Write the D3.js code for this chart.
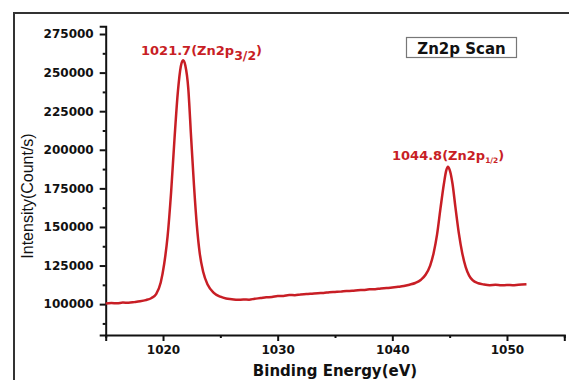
<!DOCTYPE html>
<html>
<head>
<meta charset="utf-8">
<script src="https://cdn.jsdelivr.net/npm/d3@7"></script>
<style>
  body { margin: 0; background: #fff; }
  svg { display: block; }
</style>
</head>
<body>
<div id="chart"></div>
<script>
// Zn2p XPS scan
const energy = [
  1015.0, 1015.5, 1016.0, 1016.5, 1017.0, 1017.5, 1018.0, 1018.5, 1019.0, 1019.4,
  1019.8, 1020.1, 1020.4, 1020.7, 1021.0, 1021.3, 1021.55, 1021.75, 1021.95, 1022.2,
  1022.45, 1022.7, 1022.95, 1023.2, 1023.5, 1023.9, 1024.4, 1025.0, 1025.5, 1026.0,
  1026.5, 1027.0, 1027.5, 1028.0, 1028.5, 1029.0, 1029.5, 1030.0, 1030.5, 1031.0,
  1031.5, 1032.0, 1032.5, 1033.0, 1033.5, 1034.0, 1034.5, 1035.0, 1035.5, 1036.0,
  1036.5, 1037.0, 1037.5, 1038.0, 1038.5, 1039.0, 1039.5, 1040.0, 1040.5, 1041.0,
  1041.5, 1042.0, 1042.5, 1042.9, 1043.3, 1043.6, 1043.9, 1044.2, 1044.5, 1044.7,
  1044.85, 1045.0, 1045.25, 1045.5, 1045.8, 1046.1, 1046.4, 1046.7, 1047.0, 1047.5,
  1048.0, 1048.5, 1049.0, 1049.5, 1050.0, 1050.5, 1051.0, 1051.7
];
const intensity = [
  100400, 100700, 100600, 101000, 100900, 101300, 101800, 102600, 104000, 106500,
  114000, 126000, 144000, 172000, 207000, 238000, 254000, 258000, 254500, 240000,
  208000, 177000, 151000, 133000, 121000, 112500, 107500, 104800, 103600, 103200,
  102800, 103000, 102900, 103500, 103900, 104400, 104600, 105200, 105300, 105900,
  105800, 106300, 106500, 106800, 107100, 107200, 107700, 107900, 108100, 108500,
  108600, 109000, 109200, 109600, 109700, 110200, 110400, 110800, 111200, 111700,
  112600, 113700, 115800, 119000, 125000, 133000, 145000, 162000, 178000, 186500,
  189000, 187000, 178000, 163000, 146000, 133000, 124000, 118500, 115500, 113500,
  112700, 112300, 112500, 112200, 112400, 112300, 112600, 112900
];
const xTicks = [1020, 1030, 1040, 1050];
const xMinor = [1015, 1025, 1035, 1045, 1055];
const yTicks = [100000, 125000, 150000, 175000, 200000, 225000, 250000, 275000];
const yMinor = [87500, 112500, 137500, 162500, 187500, 212500, 237500, 262500];
const peaks = [
  {main: "1021.7(Zn2p", sub: "3/2", e: 1021.7},
  {main: "1044.8(Zn2p", sub: "1/2", e: 1044.8}
];

const W = 569, H = 380;
const red = "#c81e25";

const svg = d3.select("#chart").append("svg")
  .attr("width", W)
  .attr("height", H);

// outer frame of the figure
svg.append("rect")
  .attr("x", 14).attr("y", 13)
  .attr("width", 600).attr("height", 400)
  .attr("fill", "none")
  .attr("stroke", "#333")
  .attr("stroke-width", 2);

const x = d3.scaleLinear().domain([1015, 1055]).range([105.7, 564.3]);
const y = d3.scaleLinear().domain([80000, 280000]).range([335, 26.3]);

const tickFont = "'DejaVu Sans', sans-serif";

// y axis
const gy = svg.append("g").attr("transform", "translate(105.7,0)");
gy.call(d3.axisLeft(y).tickValues(yTicks).tickSize(6).tickPadding(6).tickFormat(d3.format("d")));
gy.append("g").call(d3.axisLeft(y).tickValues(yMinor).tickSize(3).tickFormat(""))
  .select(".domain").remove();

// x axis
const gx = svg.append("g").attr("transform", "translate(0,335)");
gx.call(d3.axisBottom(x).tickValues(xTicks).tickSize(6).tickPadding(4).tickFormat(d3.format("d")));
gx.append("g").call(d3.axisBottom(x).tickValues(xMinor).tickSize(3).tickFormat(""))
  .select(".domain").remove();

svg.selectAll(".domain").attr("stroke", "#111").attr("stroke-width", 2);
svg.selectAll(".tick line").attr("stroke", "#111").attr("stroke-width", 2);
svg.selectAll(".tick text")
  .attr("fill", "#111")
  .style("font-family", tickFont)
  .style("font-weight", "bold")
  .style("font-size", "12px");

// axis titles
svg.append("text")
  .attr("transform", "translate(33,196) rotate(-90)")
  .attr("text-anchor", "middle")
  .style("font-family", "'Liberation Sans', Arial, sans-serif")
  .style("font-size", "16px")
  .attr("fill", "#111")
  .text("Intensity(Count/s)");

svg.append("text")
  .attr("x", 335).attr("y", 375.5)
  .attr("text-anchor", "middle")
  .style("font-family", tickFont)
  .style("font-weight", "bold")
  .style("font-size", "15px")
  .attr("fill", "#111")
  .text("Binding Energy(eV)");

// spectrum
const pts = energy.map((e, i) => [e, intensity[i]]);
svg.append("path")
  .datum(pts)
  .attr("fill", "none")
  .attr("stroke", red)
  .attr("stroke-width", 2.5)
  .attr("stroke-linejoin", "round")
  .attr("d", d3.line().x(d => x(d[0])).y(d => y(d[1])).curve(d3.curveMonotoneX));

// peak labels
const lab1 = svg.append("text")
  .attr("x", 141).attr("y", 55)
  .attr("fill", red)
  .style("font-family", tickFont)
  .style("font-weight", "bold")
  .style("font-size", "13px");
lab1.append("tspan").text(peaks[0].main);
lab1.append("tspan").attr("dy", 5).style("font-size", "12.5px").text(peaks[0].sub);
lab1.append("tspan").attr("dy", -5).text(")");

const lab2 = svg.append("text")
  .attr("x", 392).attr("y", 160)
  .attr("fill", red)
  .style("font-family", tickFont)
  .style("font-weight", "bold")
  .style("font-size", "13px");
lab2.append("tspan").text(peaks[1].main);
lab2.append("tspan").attr("dy", 3).style("font-size", "7.5px").text(peaks[1].sub);
lab2.append("tspan").attr("dy", -3).text(")");

// legend box
svg.append("rect")
  .attr("x", 406.5).attr("y", 37.5)
  .attr("width", 110).attr("height", 20)
  .attr("fill", "#fff")
  .attr("stroke", "#777")
  .attr("stroke-width", 1.2);
svg.append("text")
  .attr("x", 461.5).attr("y", 53.5)
  .attr("text-anchor", "middle")
  .attr("fill", "#111")
  .style("font-family", tickFont)
  .style("font-weight", "bold")
  .style("font-size", "15px")
  .text("Zn2p Scan");
</script>
</body>
</html>
